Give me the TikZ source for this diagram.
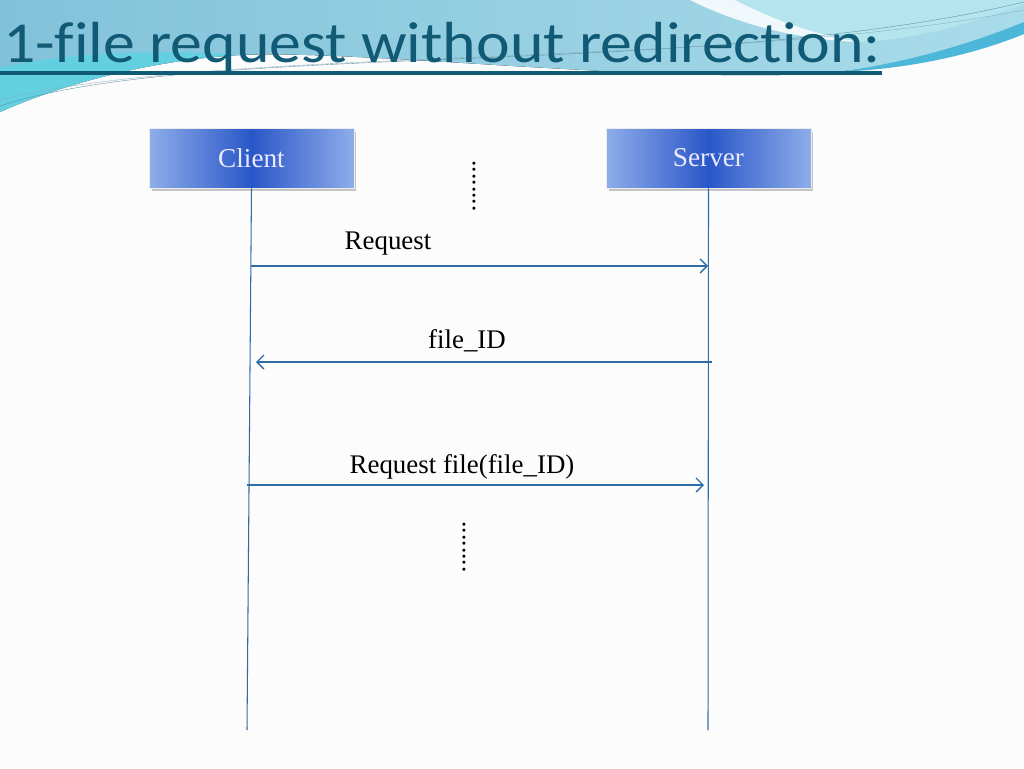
\documentclass[tikz,border=0pt]{standalone}
\usepackage{fontspec}
\setmainfont{Liberation Serif}
\newfontfamily\titlefont[Ligatures=NoCommon, FakeStretch=1.1]{Carlito}
\usetikzlibrary{positioning,arrows.meta,shadows}

\definecolor{titleblue}{HTML}{115A75}
\definecolor{msgblue}{HTML}{2F6EA5}
\definecolor{boxedge}{HTML}{8EADEA}
\definecolor{boxmid}{HTML}{2A57C8}
\definecolor{bandblue}{HTML}{82C2D9}
\definecolor{bandpale}{HTML}{A9DCEA}
\definecolor{bandcyan}{HTML}{62D0E1}
\definecolor{bandlight}{HTML}{B4E5EE}
\definecolor{stripe}{HTML}{4DB7DA}

\tikzset{
	actor/.style={minimum width=4.1cm, minimum height=1.2cm, draw=white!85!gray, thin,
		left color=boxedge, right color=boxedge, middle color=boxmid,
		text=white!92!blue, font=\fontsize{15.5}{18}\selectfont,
		drop shadow={opacity=0.45, shadow xshift=0.05cm, shadow yshift=-0.07cm}},
	life/.style={msgblue, line width=0.6pt},
	msg/.style={msgblue, line width=0.75pt, -{Straight Barb[length=4pt, width=8pt]}},
	lbl/.style={font=\fontsize{15.3}{18}\selectfont, inner sep=0pt},
	etc/.style={font=\fontsize{14.5}{17}\selectfont, inner sep=0pt, rotate=-90},
}

\begin{document}
\begin{tikzpicture}[x=0.02cm, y=-0.02cm]
	\useasboundingbox (0,0) rectangle (1024,768);
	\fill[white!98!gray] (0,0) rectangle (1024,768);

	% top band
	\fill[left color=bandblue, right color=bandpale] (0,0) -- (1024,0) -- (1024,28) .. controls (950,55) and (880,72) .. (780,75)
		.. controls (600,78) and (350,50) .. (240,55) .. controls (150,60) and (60,85) .. (0,112) -- cycle;
	\fill[bandcyan] (0,112) .. controls (60,85) and (150,60) .. (240,55)
		.. controls (150,48) and (50,55) .. (0,68) -- cycle;
	\fill[bandlight] (735,0) .. controls (770,18) and (810,34) .. (860,42)
		.. controls (930,38) and (985,18) .. (1024,4) -- (1024,0) -- cycle;
	\fill[white, opacity=0.85] (690,0) .. controls (740,25) and (800,40) .. (860,42)
		.. controls (810,34) and (770,18) .. (735,0) -- cycle;
	\fill[stripe] (840,72) .. controls (920,60) and (980,40) .. (1024,22) -- (1024,34)
		.. controls (980,52) and (920,68) .. (840,72) -- cycle;
	\draw[titleblue!70, very thin] (0,106) .. controls (200,40) and (700,80) .. (1024,2);
	\draw[titleblue!50, very thin] (0,100) .. controls (220,45) and (720,70) .. (1024,10);

	% title
	\node[anchor=base west, inner sep=0pt, text=titleblue, font=\titlefont\fontsize{33}{38}\selectfont]
		(title) at (3,62) {1-file request without redirection:};
	\draw[titleblue, line width=2.2pt] (0,73) -- (882,73);

	% actors
	\node[actor] (client) at (251.5,158) {Client};
	\node[actor] (server) at (708.5,158) {Server};

	% lifelines
	\coordinate (cend) at (247,730);
	\coordinate (send) at (708,730);
	\draw[life] (client.south) -- (cend);
	\draw[life] (server.south) -- (send);

	% messages
	\coordinate (req-a) at (251,266);
	\coordinate (req-b) at (708,266);
	\coordinate (id-a) at (712,362);
	\coordinate (id-b) at (256,362);
	\coordinate (rf-a) at (247,485);
	\coordinate (rf-b) at (704,485);
	\draw[msg] (req-a) -- (req-b);
	\draw[msg] (id-a) -- (id-b);
	\draw[msg] (rf-a) -- (rf-b);

	\node[lbl] (req) at (388,244) {Request};
	\node[lbl] (fid) at (467,341) {file\_ID};
	\node[lbl] (rfid) at (462,467) {Request file(file\_ID)};

	\node[etc] (dots1) at (474,186) {........};
	\node[etc] (dots2) at (464,547) {........};
\end{tikzpicture}
\end{document}
